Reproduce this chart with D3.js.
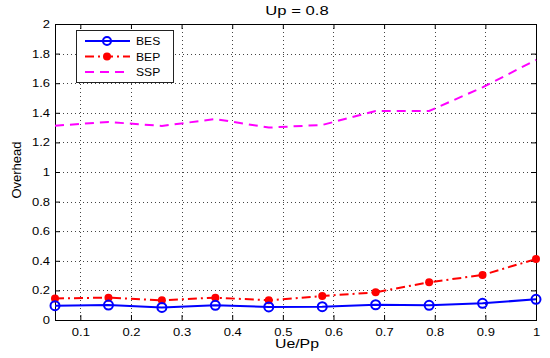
<!DOCTYPE html>
<html>
<head>
<meta charset="utf-8">
<script src="https://cdn.jsdelivr.net/npm/d3@7"></script>
<style>
  body { margin: 0; background: #fff; }
  svg { font-family: "Liberation Sans", Arial, sans-serif; }
</style>
</head>
<body>
<div id="chart"></div>
<script>
////////
// Data
let xValues = [0.05, 0.1556, 0.2611, 0.3667, 0.4722, 0.5778, 0.6833, 0.7889, 0.8944, 1.0];
let besValues = [0.097, 0.101, 0.085, 0.099, 0.088, 0.090, 0.103, 0.099, 0.113, 0.140];
let bepValues = [0.146, 0.151, 0.133, 0.151, 0.133, 0.162, 0.187, 0.255, 0.304, 0.412];
let sspValues = [1.313, 1.338, 1.311, 1.358, 1.300, 1.318, 1.412, 1.412, 1.572, 1.757];
let xTicks = [0.1, 0.2, 0.3, 0.4, 0.5, 0.6, 0.7, 0.8, 0.9, 1];
let yTicks = [0, 0.2, 0.4, 0.6, 0.8, 1, 1.2, 1.4, 1.6, 1.8, 2];
let seriesNames = ["BES", "BEP", "SSP"];

////////
// Canvas
let svg_width = 550;
let svg_height = 358;
let plotLeft = 55, plotRight = 536, plotTop = 24, plotBottom = 320;

let svg = d3.select("#chart")
  .append("svg")
  .attr("width", svg_width)
  .attr("height", svg_height)

let xScale = d3.scaleLinear()
  .domain([0.05, 1])
  .range([plotLeft, plotRight])

let yScale = d3.scaleLinear()
  .domain([0, 2])
  .range([plotBottom, plotTop])

// the original figure is stretched sideways, so widen horizontal text a bit
function widen(sel, k) {
  sel.each(function() {
    let w = this.getComputedTextLength();
    this.setAttribute("textLength", w * k);
    this.setAttribute("lengthAdjust", "spacingAndGlyphs");
  });
}

////////
// Grid (dotted, like matlab "grid on")
let grid = svg.append("g")
  .attr("stroke", "#444")
  .attr("stroke-width", 1)
  .attr("stroke-dasharray", "1,3")

grid.selectAll(".gx")
  .data(xTicks.filter(d => d < 1))
  .enter()
  .append("line")
  .attr("x1", d => Math.round(xScale(d)) + 0.5)
  .attr("x2", d => Math.round(xScale(d)) + 0.5)
  .attr("y1", plotTop)
  .attr("y2", plotBottom)

grid.selectAll(".gy")
  .data(yTicks.filter(d => d > 0 && d < 2))
  .enter()
  .append("line")
  .attr("x1", plotLeft)
  .attr("x2", plotRight)
  .attr("y1", d => Math.round(yScale(d)) + 0.5)
  .attr("y2", d => Math.round(yScale(d)) + 0.5)

////////
// Axes with inward ticks on all four sides
let fmt = d => d3.format("~g")(d);

let xAxis = d3.axisBottom(xScale).tickValues(xTicks).tickFormat(fmt).tickSizeInner(-5).tickSizeOuter(0).tickPadding(8);
let yAxis = d3.axisLeft(yScale).tickValues(yTicks).tickFormat(fmt).tickSizeInner(-5).tickSizeOuter(0).tickPadding(5);

let gx = svg.append("g")
  .attr("transform", `translate(0,${plotBottom})`)
  .call(xAxis);
let gy = svg.append("g")
  .attr("transform", `translate(${plotLeft},0)`)
  .call(yAxis);
let gxTop = svg.append("g")
  .attr("transform", `translate(0,${plotTop})`)
  .call(d3.axisTop(xScale).tickValues(xTicks).tickFormat("").tickSizeInner(-5).tickSizeOuter(0));
let gyRight = svg.append("g")
  .attr("transform", `translate(${plotRight},0)`)
  .call(d3.axisRight(yScale).tickValues(yTicks).tickFormat("").tickSizeInner(-5).tickSizeOuter(0));

[gx, gy, gxTop, gyRight].forEach(g => {
  g.select(".domain").remove();
  g.selectAll("line").attr("stroke", "#000");
  g.selectAll("text").attr("fill", "#000").style("font-size", "11px").style("font-family", "Liberation Sans, Arial, sans-serif");
});
widen(gx.selectAll("text"), 1.18);
widen(gy.selectAll("text"), 1.18);

svg.append("rect")
  .attr("x", plotLeft + 0.5)
  .attr("y", plotTop + 0.5)
  .attr("width", plotRight - plotLeft)
  .attr("height", plotBottom - plotTop)
  .attr("fill", "none")
  .attr("stroke", "#000")
  .attr("stroke-width", 1)

////////
// Lines
let lineOf = vals => d3.line()
  .x((d, i) => xScale(xValues[i]))
  .y(d => yScale(d))(vals);

svg.append("path")
  .attr("d", lineOf(sspValues))
  .attr("fill", "none")
  .attr("stroke", "#ff00ff")
  .attr("stroke-width", 2)
  .attr("stroke-dasharray", "9,6")

svg.append("path")
  .attr("d", lineOf(bepValues))
  .attr("fill", "none")
  .attr("stroke", "#ff0000")
  .attr("stroke-width", 2)
  .attr("stroke-dasharray", "9,4,2,4")

svg.selectAll(".bep")
  .data(bepValues)
  .enter()
  .append("circle")
  .attr("cx", (d, i) => xScale(xValues[i]))
  .attr("cy", d => yScale(d))
  .attr("r", 4)
  .attr("fill", "#ff0000")

svg.append("path")
  .attr("d", lineOf(besValues))
  .attr("fill", "none")
  .attr("stroke", "#0000ff")
  .attr("stroke-width", 2)

svg.selectAll(".bes")
  .data(besValues)
  .enter()
  .append("circle")
  .attr("cx", (d, i) => xScale(xValues[i]))
  .attr("cy", d => yScale(d))
  .attr("r", 4.5)
  .attr("fill", "none")
  .attr("stroke", "#0000ff")
  .attr("stroke-width", 2)

////////
// Labels
let title = svg.append("text")
  .attr("x", 297)
  .attr("y", 15)
  .attr("text-anchor", "middle")
  .style("font-size", "13px")
  .text("Up = 0.8")
widen(title, 1.28)

let xLabel = svg.append("text")
  .attr("x", 297)
  .attr("y", 348)
  .attr("text-anchor", "middle")
  .style("font-size", "12px")
  .text("Ue/Pp")
widen(xLabel, 1.32)

svg.append("text")
  .attr("transform", `translate(21,170) rotate(-90)`)
  .attr("text-anchor", "middle")
  .style("font-size", "13px")
  .text("Overhead")

////////
// Legend
let legend = svg.append("g")

legend.append("rect")
  .attr("x", 76.5)
  .attr("y", 30.5)
  .attr("width", 97)
  .attr("height", 52)
  .attr("fill", "#fff")
  .attr("stroke", "#222")
  .attr("stroke-width", 1)

let legendStyles = [
  { color: "#0000ff", dash: null },
  { color: "#ff0000", dash: "9,4,2,4" },
  { color: "#ff00ff", dash: "9,6" }
];

seriesNames.forEach((name, i) => {
  let y = 41 + i * 15.5;
  legend.append("line")
    .attr("x1", 85).attr("x2", 130)
    .attr("y1", y).attr("y2", y)
    .attr("stroke", legendStyles[i].color)
    .attr("stroke-width", 2)
    .attr("stroke-dasharray", legendStyles[i].dash)
  if (i === 0) {
    legend.append("circle").attr("cx", 107).attr("cy", y).attr("r", 4)
      .attr("fill", "none").attr("stroke", "#0000ff").attr("stroke-width", 2)
  } else if (i === 1) {
    legend.append("circle").attr("cx", 107).attr("cy", y).attr("r", 4)
      .attr("fill", "#ff0000")
  }
  let t = legend.append("text")
    .attr("x", 136)
    .attr("y", y + 4)
    .style("font-size", "11px")
    .text(name)
  widen(t, 1.1)
});
</script>
</body>
</html>
